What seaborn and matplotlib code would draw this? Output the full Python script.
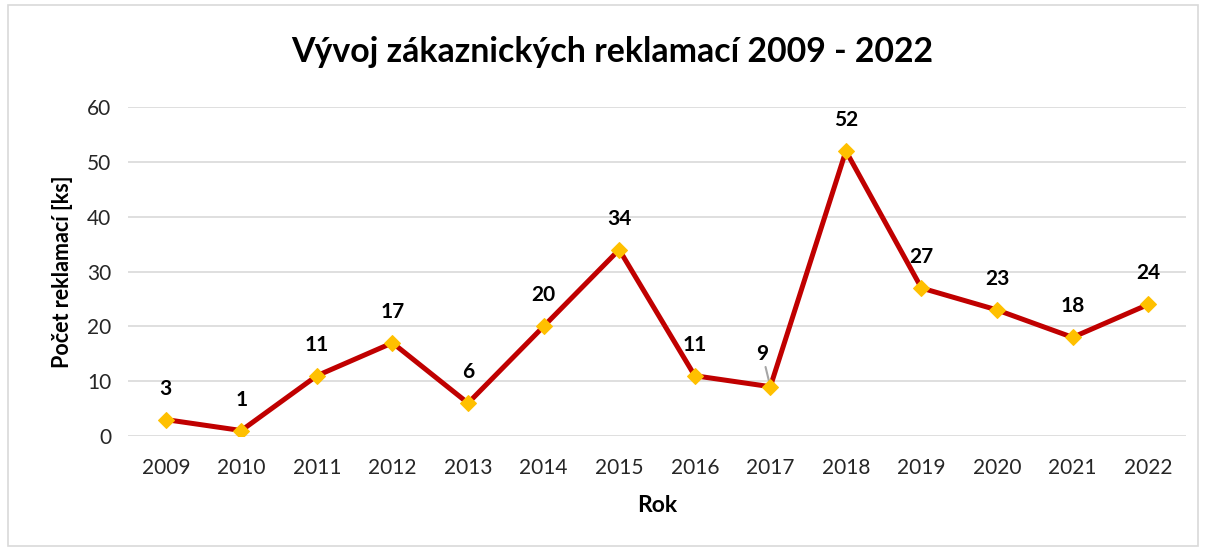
import matplotlib
matplotlib.use('Agg')
import matplotlib.pyplot as plt
import seaborn as sns
import pandas as pd
from matplotlib.patches import Rectangle

roky = ['2009', '2010', '2011', '2012', '2013', '2014', '2015',
        '2016', '2017', '2018', '2019', '2020', '2021', '2022']
reklamace = [3, 1, 11, 17, 6, 20, 34, 11, 9, 52, 27, 23, 18, 24]

sns.set_style('white')
plt.rcParams['font.family'] = ['Lato', 'DejaVu Sans']

df = pd.DataFrame({'poz': range(len(roky)), 'rok': roky, 'pocet': reklamace})

fig = plt.figure(figsize=(12.05, 5.49), dpi=100)
ax = fig.add_axes([0.1062, 0.2058, 0.878, 0.599])

sns.lineplot(data=df, x='poz', y='pocet', ax=ax, color='#C00000', linewidth=3.6,
             marker='D', markersize=8.5, markerfacecolor='#FFC000',
             markeredgecolor='#FFC000', zorder=3)

ax.set_xlim(-0.5, len(roky) - 0.5)
ax.set_ylim(0, 60)
ax.set_yticks(range(0, 61, 10))
ax.set_xticks(range(len(roky)))
ax.set_xticklabels(roky)
ax.tick_params(axis='both', labelsize=15, colors='#262626', length=0)
ax.tick_params(axis='x', pad=16)
ax.tick_params(axis='y', pad=12)
ax.grid(axis='y', color='#D9D9D9', linewidth=1.2)
ax.set_axisbelow(True)
for s in ax.spines.values():
    s.set_visible(False)

ax.set_xlabel('Rok', fontsize=16.5, fontweight='bold', color='black', labelpad=12)
ax.set_ylabel('Počet reklamací [ks]', fontsize=15.5, fontweight='bold', color='black', labelpad=10)
fig.text(0.508, 0.905, 'Vývoj zákaznických reklamací 2009 - 2022',
         ha='center', va='center', fontsize=24.4, fontweight='bold', color='black')

# popisky hodnot
for i, v in enumerate(reklamace):
    if roky[i] == '2017':
        ax.annotate(str(v), (i, v), xytext=(-8, 33), textcoords='offset pixels',
                    ha='center', va='center', fontsize=15, fontweight='bold', color='black',
                    arrowprops=dict(arrowstyle='-', color='#A6A6A6', lw=1.5,
                                    shrinkA=0, shrinkB=0), zorder=2)
    else:
        ax.annotate(str(v), (i, v), xytext=(0, 31), textcoords='offset pixels',
                    ha='center', va='center', fontsize=15, fontweight='bold', color='black')

fig.patches.append(Rectangle((8 / 1205, 0.005), 1190 / 1205, 0.985,
                             transform=fig.transFigure, fill=False,
                             edgecolor='#D9D9D9', linewidth=1.2))

fig.savefig('out.png', dpi=100)
